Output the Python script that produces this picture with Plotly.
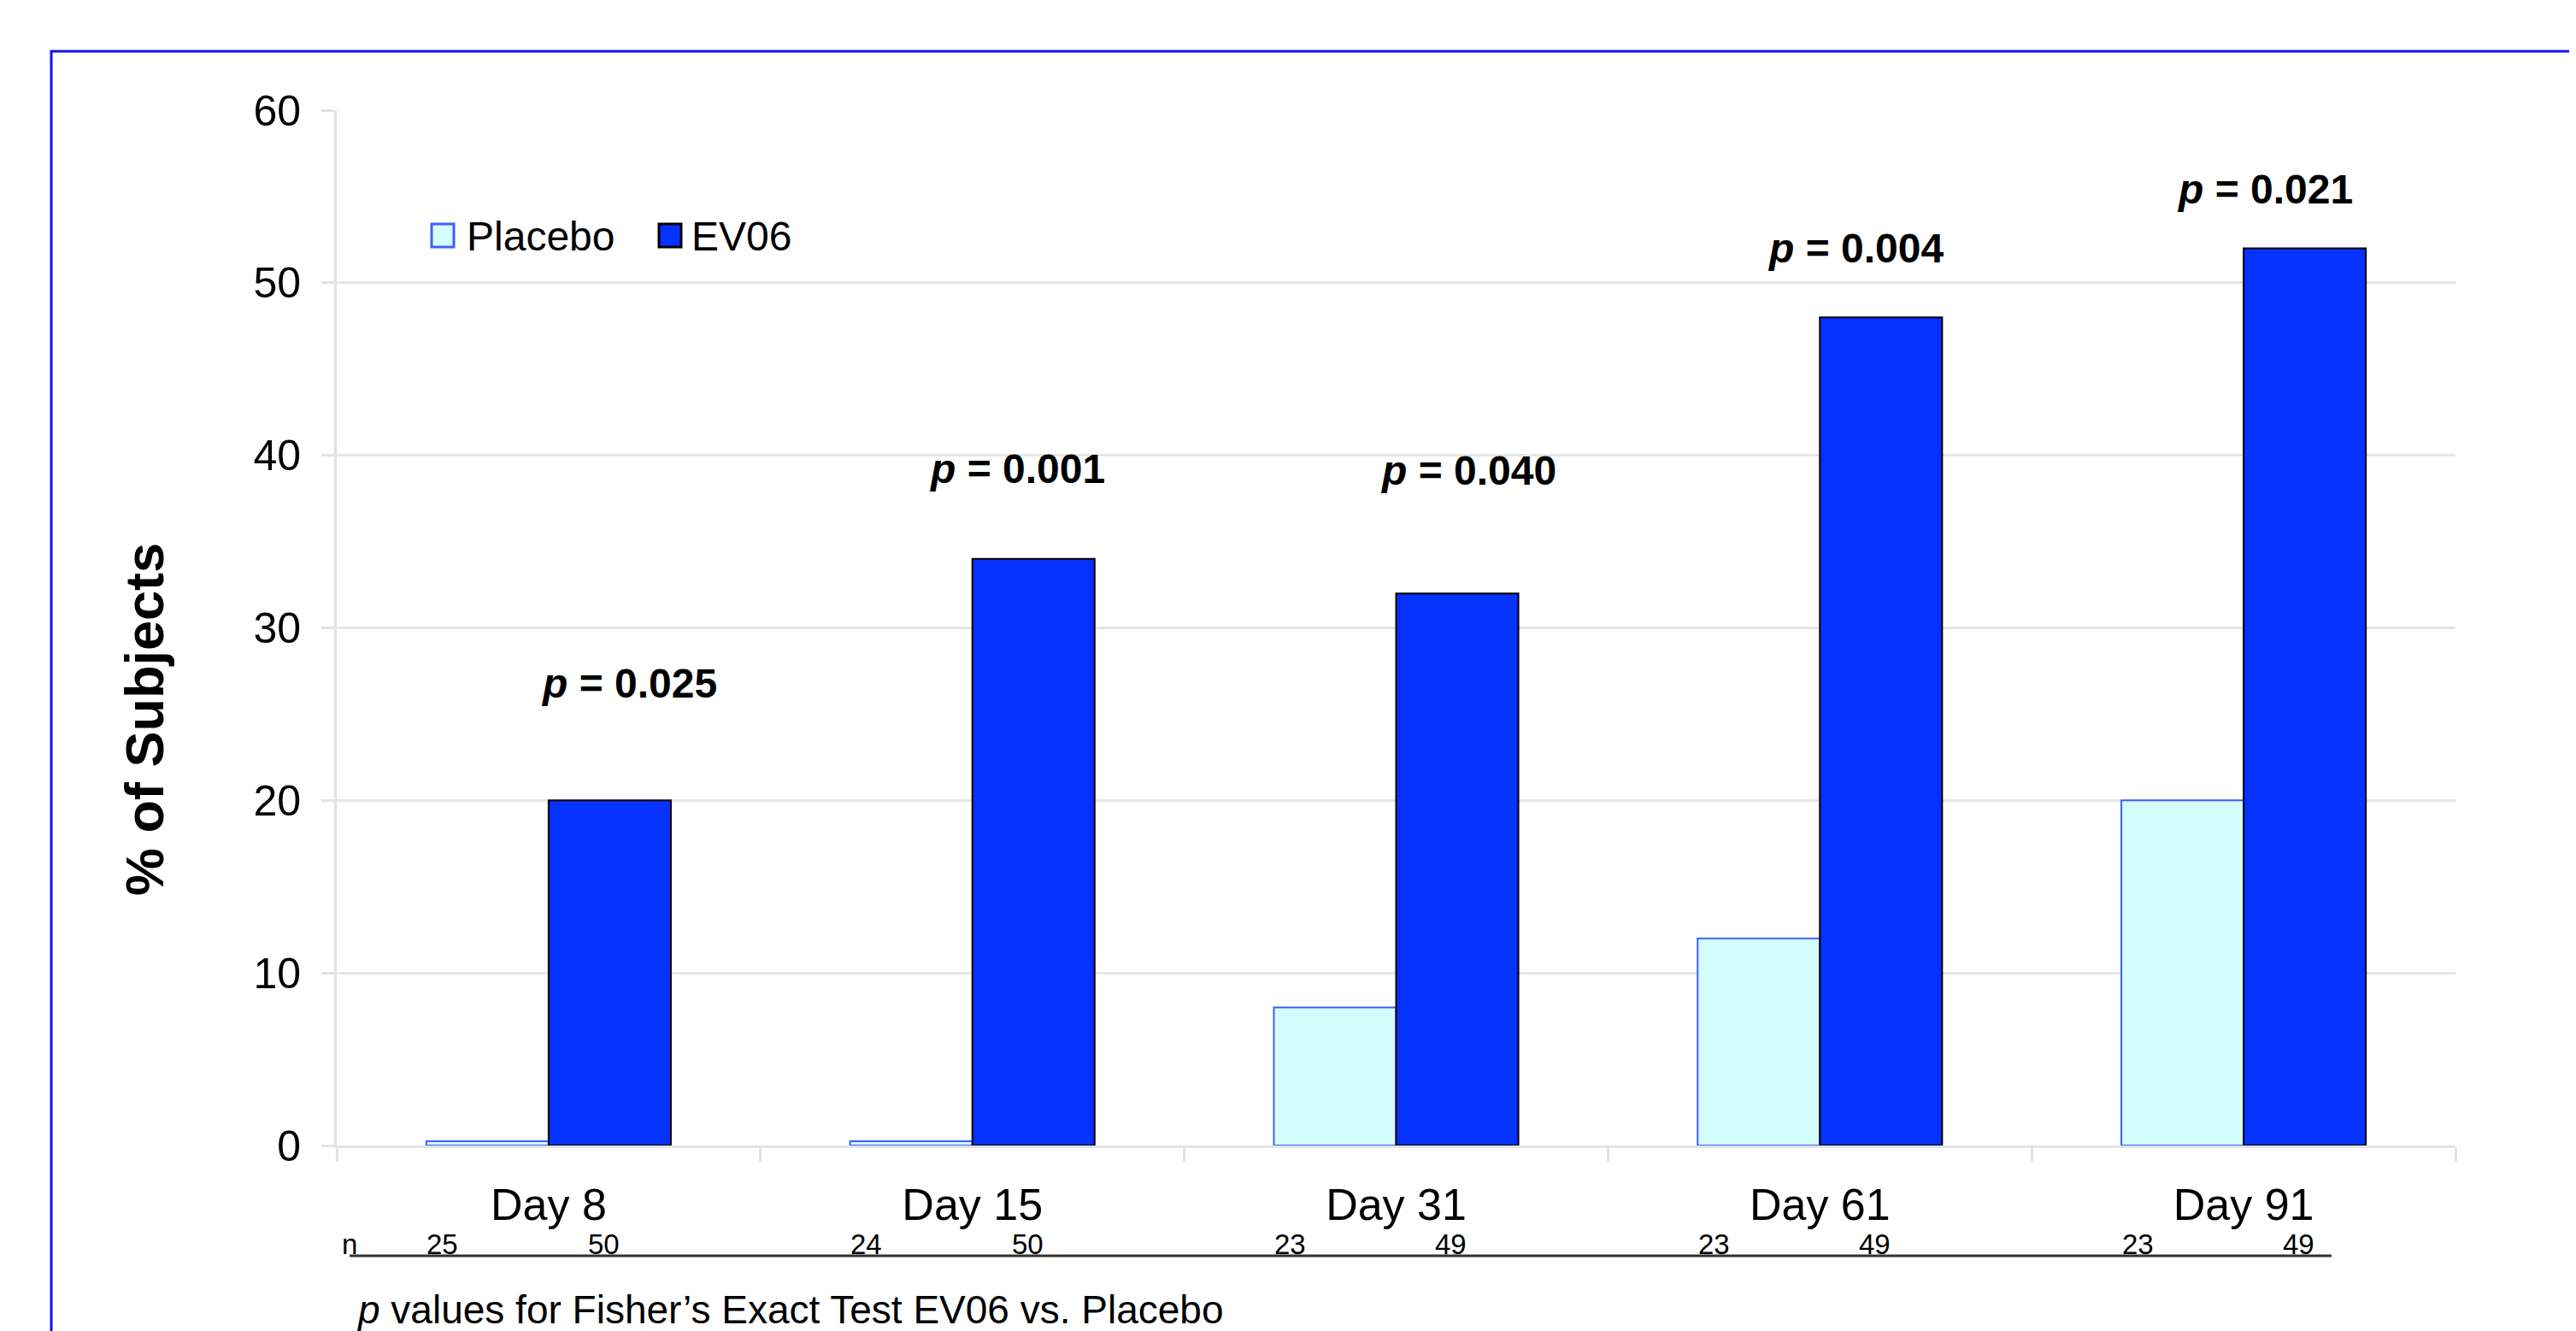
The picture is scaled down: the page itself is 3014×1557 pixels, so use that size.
import plotly.graph_objects as go

# ---- data ----
days = ["Day 8", "Day 15", "Day 31", "Day 61", "Day 91"]
placebo = [0.25, 0.25, 8, 12, 20]
ev06 = [20, 34, 32, 48, 52]
n_placebo = [25, 24, 23, 23, 23]
n_ev06 = [50, 50, 49, 49, 49]
p_values = ["0.025", "0.001", "0.040", "0.004", "0.021"]
series_names = ["Placebo", "EV06"]

# ---- layout helpers (positions, not data) ----
label_dx = [0.19, 0.105, 0.17, 0.085, 0.05]
label_y = [26.8, 39.2, 39.1, 52.0, 55.4]

FONT = "Liberation Sans, Arial, sans-serif"
PAGE_OFF = 8  # default body margin of the html page
W, H = 3014 - PAGE_OFF, 1557 - PAGE_OFF
L, T = 394 - PAGE_OFF, 129 - PAGE_OFF
R, B = 141, 217
PW, PH = W - L - R, H - T - B

COL_PLA, LINE_PLA = "#D4FEFE", "#3F5FFF"
COL_EV, LINE_EV = "#0532FF", "#000000"


def px_x(px):
    """reference-page x pixel -> paper coordinate"""
    return (px - PAGE_OFF - L) / PW


def px_y(py):
    """reference-page y pixel -> paper coordinate"""
    return (T + PH - (py - PAGE_OFF)) / PH


xs = list(range(len(days)))

fig = go.Figure()
fig.add_trace(go.Bar(
    x=xs, y=placebo, name=series_names[0], showlegend=False,
    marker=dict(color=COL_PLA, line=dict(color=LINE_PLA, width=2)),
))
fig.add_trace(go.Bar(
    x=xs, y=ev06, name=series_names[1], showlegend=False,
    marker=dict(color=COL_EV, line=dict(color=LINE_EV, width=2)),
))

annotations = []
for i, (pv, dx, ly) in enumerate(zip(p_values, label_dx, label_y)):
    annotations.append(dict(
        x=i + dx, y=ly, xref="x", yref="y",
        text=f"<b><i>p</i> = {pv}</b>", showarrow=False,
        font=dict(family=FONT, size=48, color="black"),
        xanchor="center", yanchor="middle",
    ))

# n row
annotations.append(dict(
    x=-0.47, y=px_y(1455), xref="x", yref="paper", text="n", showarrow=False,
    font=dict(family=FONT, size=33, color="black"), xanchor="center", yanchor="middle"))
for i, (a, b) in enumerate(zip(n_placebo, n_ev06)):
    annotations.append(dict(
        x=i - 0.25, y=px_y(1455), xref="x", yref="paper", text=str(a), showarrow=False,
        font=dict(family=FONT, size=33, color="black"), xanchor="center", yanchor="middle"))
    annotations.append(dict(
        x=i + 0.13, y=px_y(1455), xref="x", yref="paper", text=str(b), showarrow=False,
        font=dict(family=FONT, size=33, color="black"), xanchor="center", yanchor="middle"))

# y-axis title
annotations.append(dict(
    x=px_x(169), y=px_y(842), xref="paper", yref="paper",
    text="<b>% of Subjects</b>", textangle=-90, showarrow=False,
    font=dict(family=FONT, size=63, color="black"), xanchor="center", yanchor="middle"))

# footnote
annotations.append(dict(
    x=px_x(415), y=px_y(1532), xref="paper", yref="paper",
    text="<i>p</i> values for Fisher’s Exact Test EV06 vs. Placebo", showarrow=False,
    font=dict(family=FONT, size=46, color="black"), xanchor="left", yanchor="middle"))

# legend (drawn manually for larger swatches)
legend_items = [
    (series_names[0], COL_PLA, LINE_PLA, 505, 544),
    (series_names[1], COL_EV, LINE_EV, 771, 807),
]
shapes = [
    # blue frame
    dict(type="rect", xref="paper", yref="paper",
         x0=px_x(60), y0=px_y(1700), x1=px_x(3200), y1=px_y(60),
         line=dict(color="#0A14F0", width=3), fillcolor="rgba(0,0,0,0)", layer="below"),
    # underline of n row
    dict(type="line", xref="paper", yref="paper",
         x0=px_x(409), x1=px_x(2728), y0=px_y(1469), y1=px_y(1469),
         line=dict(color="#333333", width=3)),
]
for name, fc, lc, sx, tx in legend_items:
    shapes.append(dict(type="rect", xref="paper", yref="paper",
                       x0=px_x(sx), x1=px_x(sx + 26), y0=px_y(289), y1=px_y(262),
                       fillcolor=fc, line=dict(color=lc, width=3)))
    annotations.append(dict(x=px_x(tx), y=px_y(276), xref="paper", yref="paper",
                            text=name, showarrow=False, xanchor="left", yanchor="middle",
                            font=dict(family=FONT, size=48, color="black")))

fig.update_layout(
    width=W, height=H,
    margin=dict(l=L, r=R, t=T, b=B, autoexpand=False),
    paper_bgcolor="white", plot_bgcolor="white",
    barmode="group", bargap=0.423, bargroupgap=0,
    font=dict(family=FONT, color="black"),
    showlegend=False,
    annotations=annotations,
    shapes=shapes,
    xaxis=dict(
        range=[-0.5, len(days) - 0.5], tickmode="array", tickvals=xs, ticktext=days,
        ticks="outside", ticklen=22, tickcolor="rgba(0,0,0,0)",
        tickfont=dict(family=FONT, size=52, color="black"),
        showgrid=False, zeroline=False, showline=True, linecolor="#E3E3E3", linewidth=3,
        minor=dict(tickmode="array", tickvals=[i - 0.5 for i in range(len(days) + 1)],
                   ticks="outside", ticklen=16, tickcolor="#E3E3E3", tickwidth=3, showgrid=False),
    ),
    yaxis=dict(
        range=[0, 60], tickvals=[0, 10, 20, 30, 40, 50, 60],
        ticks="outside", ticklen=15, tickcolor="#E3E3E3", tickwidth=3,
        ticklabelstandoff=14,
        tickfont=dict(family=FONT, size=50, color="black"),
        showgrid=True, gridcolor="#E6E6E6", gridwidth=3,
        zeroline=False, showline=True, linecolor="#E3E3E3", linewidth=3,
    ),
)

fig.write_html("out.html")
